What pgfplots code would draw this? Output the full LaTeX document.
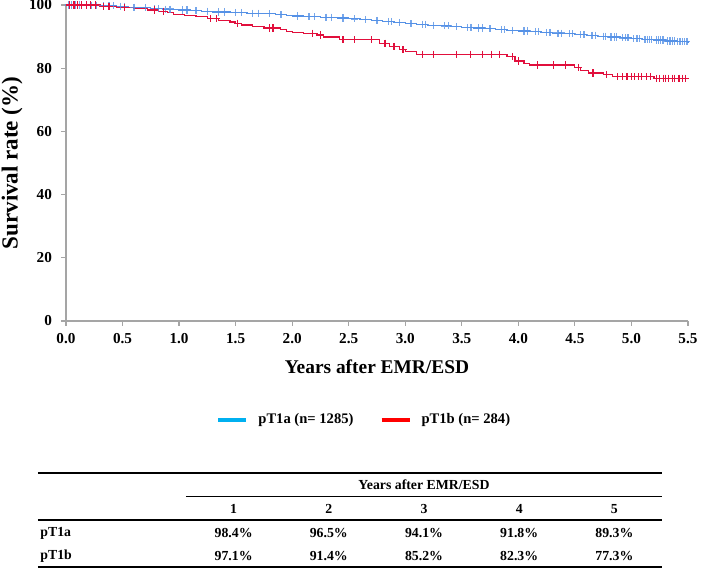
\documentclass[border=0pt]{standalone}
\usepackage{fontspec}
\setmainfont{Liberation Serif}
\usepackage{pgfplots}
\usepackage{pgfplotstable}
\pgfplotsset{compat=1.18}
\definecolor{lineblue}{RGB}{85,145,230}
\definecolor{linered}{RGB}{225,15,60}
\definecolor{legblue}{RGB}{0,176,240}
\definecolor{legred}{RGB}{255,0,0}
\definecolor{axgray}{RGB}{165,165,165}

\pgfplotstableread{
t v
0 100
0.15 99.9
0.3 99.8
0.45 99.6
0.55 99.3
0.65 99.1
0.75 98.9
0.85 98.7
0.95 98.5
1.0 98.4
1.1 98.2
1.2 98.0
1.3 97.8
1.45 97.6
1.6 97.4
1.75 97.2
1.85 96.9
1.95 96.6
2.0 96.5
2.1 96.3
2.25 96.1
2.4 95.9
2.5 95.6
2.6 95.4
2.7 95.1
2.8 94.8
2.9 94.5
3.0 94.1
3.1 93.9
3.2 93.6
3.3 93.4
3.4 93.1
3.5 92.9
3.6 92.7
3.7 92.5
3.8 92.2
3.9 92.0
4.0 91.8
4.1 91.6
4.2 91.3
4.3 91.1
4.4 90.9
4.5 90.6
4.6 90.4
4.7 90.1
4.8 89.9
4.9 89.6
5.0 89.3
5.1 89.1
5.2 88.9
5.3 88.6
5.4 88.4
5.5 88.2
}\bluesteps

\pgfplotstableread{
t v
0.02 100
0.05 100
0.08 100
0.12 100
0.18 99.9
0.22 99.9
0.27 99.9
0.33 99.8
0.38 99.8
0.42 99.8
0.48 99.6
0.52 99.6
0.6 99.3
0.7 99.1
0.78 98.9
0.82 98.9
0.88 98.7
0.92 98.7
1.03 98.4
1.07 98.4
1.15 98.2
1.25 98.0
1.35 97.8
1.4 97.8
1.5 97.6
1.55 97.6
1.65 97.4
1.7 97.4
1.8 97.2
1.9 96.9
2.05 96.5
2.15 96.3
2.2 96.3
2.3 96.1
2.35 96.1
2.45 95.9
2.55 95.6
2.65 95.4
2.75 95.1
2.85 94.8
2.88 94.8
2.95 94.5
3.05 94.1
3.15 93.9
3.18 93.9
3.25 93.6
3.35 93.4
3.38 93.4
3.45 93.1
3.55 92.9
3.58 92.9
3.65 92.7
3.68 92.7
3.75 92.5
3.85 92.2
3.88 92.2
3.95 92.0
4.05 91.8
4.08 91.8
4.15 91.6
4.18 91.6
4.25 91.3
4.28 91.3
4.35 91.1
4.38 91.1
4.45 90.9
4.48 90.9
4.55 90.6
4.58 90.6
4.65 90.4
4.68 90.4
4.75 90.1
4.77 90.1
4.82 89.9
4.85 89.9
4.87 89.9
4.92 89.6
4.95 89.6
4.97 89.6
5.02 89.3
5.05 89.3
5.07 89.3
5.12 89.1
5.14 89.1
5.16 89.1
5.18 89.1
5.22 88.9
5.24 88.9
5.26 88.9
5.28 88.9
5.32 88.6
5.34 88.6
5.36 88.6
5.38 88.6
5.41 88.4
5.43 88.4
5.45 88.4
5.47 88.4
5.49 88.4
}\bluecens

\pgfplotstableread{
t v
0 100
0.3 99.6
0.45 99.3
0.6 98.9
0.72 98.4
0.82 98.0
0.9 97.5
0.95 97.1
1.05 96.7
1.15 96.3
1.25 95.6
1.35 95.2
1.45 94.6
1.5 94.2
1.55 93.7
1.65 93.2
1.75 92.7
1.9 92.2
1.95 91.7
2.0 91.4
2.1 91.1
2.22 90.5
2.28 89.9
2.42 89.0
2.77 87.9
2.86 86.9
2.95 85.8
3.0 85.2
3.1 84.4
3.9 83.6
3.97 82.3
4.05 81.6
4.1 81.0
4.5 80.2
4.55 79.3
4.62 78.5
4.75 77.9
4.83 77.3
5.2 76.8
5.5 76.8
}\redsteps

\pgfplotstableread{
t v
0.03 100
0.07 100
0.1 100
0.14 100
0.18 100
0.22 100
0.26 100
0.33 99.6
0.38 99.6
0.52 99.3
0.78 98.4
0.86 98.0
1.28 95.6
1.33 95.6
1.52 94.2
1.8 92.7
1.83 92.7
2.18 91.1
2.25 90.5
2.45 89.0
2.55 89.0
2.7 89.0
2.82 87.9
2.9 86.9
2.98 85.8
3.15 84.4
3.25 84.4
3.45 84.4
3.58 84.4
3.68 84.4
3.76 84.4
3.83 84.4
3.95 83.6
4.0 82.3
4.17 81.0
4.31 81.0
4.42 81.0
4.53 80.2
4.66 78.5
4.78 77.9
4.88 77.3
4.92 77.3
4.96 77.3
5.0 77.3
5.03 77.3
5.06 77.3
5.09 77.3
5.13 77.3
5.17 77.3
5.22 76.8
5.25 76.8
5.28 76.8
5.3 76.8
5.33 76.8
5.36 76.8
5.38 76.8
5.42 76.8
5.45 76.8
5.48 76.8
}\redcens

\begin{document}
\begin{tikzpicture}
\path[use as bounding box] (-33pt,160.5pt) rectangle (321.5pt,-133.5pt);
\begin{axis}[
  at={(0,0)}, anchor=south west,
  scale only axis, width=311pt, height=158pt,
  xmin=0, xmax=5.5, ymin=0, ymax=100,
  xtick={0,0.5,1,1.5,2,2.5,3,3.5,4,4.5,5,5.5},
  ytick={0,20,40,60,80,100},
  axis lines=left,
  axis line style={-, draw=axgray, line width=0.6pt},
  tick style={draw=axgray, line width=0.6pt},
  tick align=outside, major tick length=2.5pt,
  clip=false,
  ticklabel style={font=\bfseries\fontsize{7.6}{9}\selectfont},
  xticklabel style={/pgf/number format/.cd, fixed, fixed zerofill, precision=1, assume math mode=true},
  yticklabel style={/pgf/number format/assume math mode=true, xshift=-1pt},
  xlabel={Years after EMR/ESD},
  xlabel style={at={(axis description cs:0.5,-0.1456)}, anchor=center, font=\bfseries\fontsize{9.7}{12}\selectfont},
  ylabel={Survival rate (\%)},
  ylabel style={at={(axis description cs:-0.0868,0.50)}, anchor=center, font=\bfseries\fontsize{11.5}{13}\selectfont},
  legend columns=2,
  legend image code/.code={\draw[#1] (0pt,0pt) -- (14pt,0pt);},
  legend style={at={(axis description cs:0.2315,-0.313)}, anchor=west, draw=none, fill=none,
    font=\bfseries\fontsize{7.3}{9}\selectfont, column sep=3pt,
    /tikz/every even column/.append style={column sep=11pt}},
]
\addplot[const plot, draw=lineblue, line width=0.6pt, forget plot] table[x=t,y=v] {\bluesteps};
\addplot[only marks, mark=+, mark size=1.8pt, draw=lineblue, opacity=0.8, mark options={line width=0.65pt}, forget plot] table[x=t,y=v] {\bluecens};
\addplot[const plot, draw=linered, line width=0.6pt, forget plot] table[x=t,y=v] {\redsteps};
\addplot[only marks, mark=+, mark size=1.8pt, draw=linered, mark options={line width=0.6pt}, forget plot] table[x=t,y=v] {\redcens};
\addlegendimage{legblue, line width=2pt}
\addlegendentry{pT1a (n= 1285)}
\addlegendimage{legred, line width=2pt}
\addlegendentry{pT1b (n= 284)}
\end{axis}
\begin{scope}[shift={(-33pt,160.5pt)}, x=0.5pt, y=-0.5pt]
  \draw[line width=1pt] (38,473) -- (662,473);
  \draw[line width=0.5pt] (186,497) -- (662,497);
  \draw[line width=0.8pt] (38,520) -- (662,520);
  \draw[line width=1pt] (38,567) -- (662,567);
  \begin{scope}[every node/.style={font=\bfseries\fontsize{6.9}{8}\selectfont, inner sep=0pt}]
    \node at (424,485) {Years after EMR/ESD};
    \node at (233.6,509) {1};
    \node at (328.8,509) {2};
    \node at (424,509) {3};
    \node at (519.2,509) {4};
    \node at (614.4,509) {5};
    \node[anchor=west] at (40,533) {pT1a};
    \node at (233.6,533) {98.4\%};
    \node at (328.8,533) {96.5\%};
    \node at (424,533) {94.1\%};
    \node at (519.2,533) {91.8\%};
    \node at (614.4,533) {89.3\%};
    \node[anchor=west] at (40,556) {pT1b};
    \node at (233.6,556) {97.1\%};
    \node at (328.8,556) {91.4\%};
    \node at (424,556) {85.2\%};
    \node at (519.2,556) {82.3\%};
    \node at (614.4,556) {77.3\%};
  \end{scope}
\end{scope}
\end{tikzpicture}
\end{document}
